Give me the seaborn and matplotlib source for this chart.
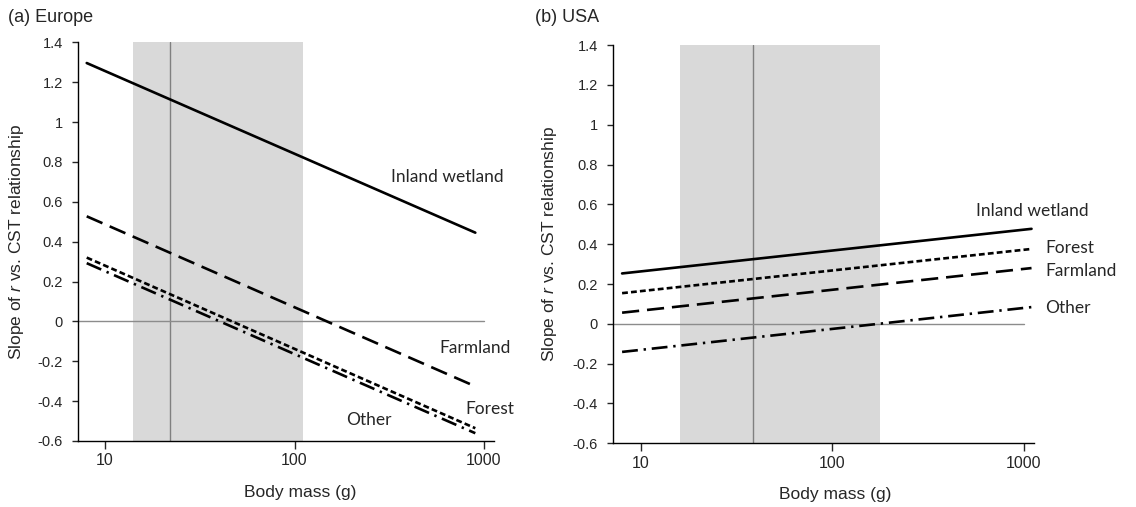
import pandas as pd
import numpy as np
import matplotlib
matplotlib.use('Agg')
import matplotlib.pyplot as plt
import seaborn as sns
from matplotlib.ticker import NullLocator, FixedLocator

# Body mass (g) at line ends
mass_eu = [8, 900]
mass_us = [8, 1100]

# Europe slopes
eu_inland = [1.296, 0.445]
eu_farmland = [0.527, -0.326]
eu_forest = [0.320, -0.536]
eu_other = [0.292, -0.561]

# USA slopes
us_inland = [0.253, 0.477]
us_forest = [0.154, 0.376]
us_farmland = [0.056, 0.280]
us_other = [-0.141, 0.084]

# shaded range and median body mass
eu_band = [14, 111]
eu_median = 22
us_band = [16, 178]
us_median = 38.5

habitats = ['Inland wetland', 'Farmland', 'Forest', 'Other']
ytick_vals = [-0.6, -0.4, -0.2, 0, 0.2, 0.4, 0.6, 0.8, 1, 1.2, 1.4]
ytick_labels = ['-0.6', '-0.4', '-0.2', '0', '0.2', '0.4', '0.6', '0.8', '1', '1.2', '1.4']
xtick_vals = [10, 100, 1000]
xtick_labels = ['10', '100', '1000']

sns.set_style('ticks')
plt.rcParams['font.family'] = ['Liberation Sans', 'DejaVu Sans']
plt.rcParams['mathtext.fontset'] = 'custom'
plt.rcParams['mathtext.it'] = 'Liberation Sans:italic'
plt.rcParams['mathtext.rm'] = 'Liberation Sans'


def build_frame():
    rows = []
    eu = {'Inland wetland': eu_inland, 'Farmland': eu_farmland,
          'Forest': eu_forest, 'Other': eu_other}
    us = {'Inland wetland': us_inland, 'Farmland': us_farmland,
          'Forest': us_forest, 'Other': us_other}
    for hab, vals in eu.items():
        for m, v in zip(mass_eu, vals):
            rows.append({'region': 'Europe', 'habitat': hab, 'mass': m, 'slope': v})
    for hab, vals in us.items():
        for m, v in zip(mass_us, vals):
            rows.append({'region': 'USA', 'habitat': hab, 'mass': m, 'slope': v})
    return pd.DataFrame(rows)


df = build_frame()

dashes = {
    'Inland wetland': '',
    'Farmland': (6.5, 3.0),
    'Forest': (2.2, 1.2),
    'Other': (6.0, 2.2, 0.9, 2.2),
}

fig = plt.figure(figsize=(11.36, 5.07), dpi=100)
ax1 = fig.add_axes([0.0687, 0.1302, 0.3662, 0.7864])
ax2 = fig.add_axes([0.5399, 0.1256, 0.3701, 0.7856])

label_font = ['Lato', 'DejaVu Sans']


def style_axis(ax, band, median, xlab_x, ylab_x):
    ax.axvspan(band[0], band[1], color='#d9d9d9', lw=0, zorder=0)
    ax.axvline(median, color='#808080', lw=1.0, zorder=1)
    ax.plot([7.2, 1000], [0, 0], color='#8c8c8c', lw=1.0, zorder=1)
    ax.set_xscale('log')
    ax.set_xlim(7.2, 1130)
    ax.set_ylim(-0.6, 1.4)
    ax.xaxis.set_major_locator(FixedLocator(xtick_vals))
    ax.xaxis.set_minor_locator(NullLocator())
    ax.set_xticklabels(xtick_labels)
    ax.set_yticks(ytick_vals)
    ax.set_yticklabels(ytick_labels)
    ax.tick_params(axis='y', direction='out', length=4, width=1, pad=7, labelsize=10.5)
    ax.tick_params(axis='x', direction='out', length=5.5, width=1, pad=3.5, labelsize=11.5)
    for s in ['top', 'right']:
        ax.spines[s].set_visible(False)
    for s in ['left', 'bottom']:
        ax.spines[s].set_linewidth(1.0)
        ax.spines[s].set_color('black')
    ax.set_xlabel('Body mass (g)', fontsize=12.5)
    ax.set_ylabel('Slope of $r$ vs. CST relationship', fontsize=12.5)
    ax.xaxis.set_label_coords(xlab_x, -0.11)
    ax.yaxis.set_label_coords(ylab_x, 0.5)
    ax.grid(False)


for ax, region in [(ax1, 'Europe'), (ax2, 'USA')]:
    sub = df[df['region'] == region]
    sns.lineplot(data=sub, x='mass', y='slope', style='habitat', style_order=habitats,
                 dashes=dashes, color='black', lw=1.9, legend=False, ax=ax, zorder=3)

style_axis(ax1, eu_band, eu_median, 0.534, -0.125)
style_axis(ax2, us_band, us_median, 0.528, -0.13)

# curve labels
ax1.text(638, 0.722, 'Inland wetland', ha='center', va='center', fontsize=12.5, family=label_font)
ax1.text(897, -0.133, 'Farmland', ha='center', va='center', fontsize=12.5, family=label_font)
ax1.text(1077, -0.442, 'Forest', ha='center', va='center', fontsize=12.5, family=label_font)
ax1.text(247, -0.497, 'Other', ha='center', va='center', fontsize=12.5, family=label_font)

ax2.text(1104, 0.569, 'Inland wetland', ha='center', va='center', fontsize=12.5, family=label_font)
ax2.text(1300, 0.381, 'Forest', ha='left', va='center', fontsize=12.5, family=label_font)
ax2.text(1300, 0.266, 'Farmland', ha='left', va='center', fontsize=12.5, family=label_font)
ax2.text(1300, 0.078, 'Other', ha='left', va='center', fontsize=12.5, family=label_font)

fig.text(8 / 1136, 1 - 17 / 507, '(a) Europe', ha='left', va='center', fontsize=13)
fig.text(535 / 1136, 1 - 17 / 507, '(b) USA', ha='left', va='center', fontsize=13)

fig.savefig('out.png', dpi=100)
